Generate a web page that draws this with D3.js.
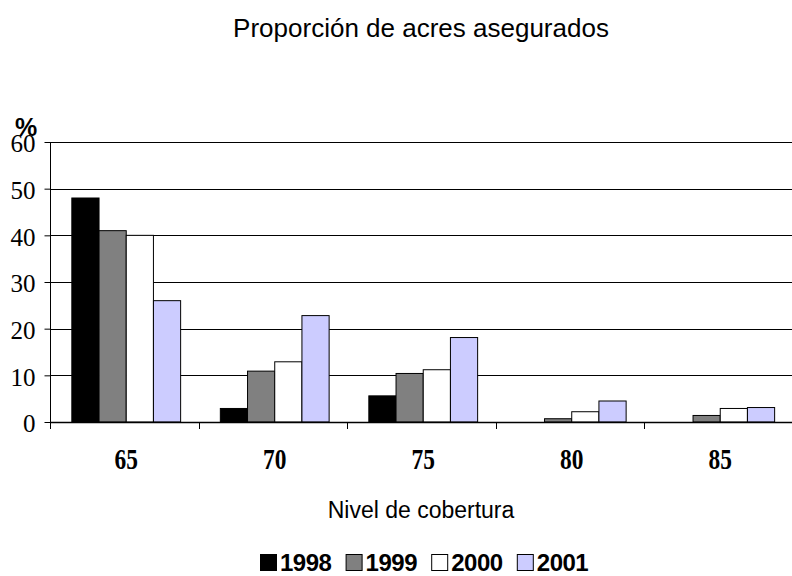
<!DOCTYPE html>
<html>
<head>
<meta charset="utf-8">
<script src="https://cdn.jsdelivr.net/npm/d3@7"></script>
<style>
  html, body { margin: 0; padding: 0; background: #fff; }
  svg { display: block; }
</style>
</head>
<body>
<svg id="chart"></svg>
<script>
// Proporción de acres asegurados — barras agrupadas por nivel de cobertura

const levels = ['65', '70', '75', '80', '85']
const years = ['1998', '1999', '2000', '2001']
const colors = ['#000000', '#808080', '#ffffff', '#ccccff']

const v1998 = [48, 2.9, 5.6, 0, 0]
const v1999 = [41, 10.9, 10.4, 0.7, 1.4]
const v2000 = [40, 12.9, 11.2, 2.2, 2.9]
const v2001 = [26, 22.8, 18.1, 4.5, 3.1]
const yTicks = [0, 10, 20, 30, 40, 50, 60]

const series = [v1998, v1999, v2000, v2001]

const width = 792, height = 576
const margin = { top: 142, right: 0, bottom: 154, left: 50 }

const svg = d3.select('#chart').attr('width', width).attr('height', height)

const x0 = d3.scaleBand()
  .domain(levels)
  .range([margin.left, 792.5])
  .paddingInner(0)
  .paddingOuter(0)

const x1 = d3.scaleBand()
  .domain(years)
  .range([0, x0.bandwidth()])
  .paddingInner(0)
  .paddingOuter(0.73)
  .align(0.55)

const y = d3.scaleLinear()
  .domain([0, 60])
  .range([height - margin.bottom, margin.top])

// Title
svg.append('text')
  .attr('x', 421)
  .attr('y', 37)
  .attr('text-anchor', 'middle')
  .attr('font-family', 'Liberation Sans, Arial, sans-serif')
  .attr('font-size', 26)
  .text('Proporción de acres asegurados')

// Gridlines
svg.append('g')
  .selectAll('line')
  .data(yTicks.filter(d => d > 0))
  .join('line')
  .attr('x1', margin.left)
  .attr('x2', width)
  .attr('y1', d => Math.round(y(d)) + 0.5)
  .attr('y2', d => Math.round(y(d)) + 0.5)
  .attr('stroke', '#000')
  .attr('stroke-width', 1)

// Bars
const groups = svg.append('g')
  .selectAll('g')
  .data(levels)
  .join('g')
  .attr('transform', d => `translate(${x0(d)},0)`)

groups.selectAll('rect')
  .data((d, i) => years.map((yr, j) => ({ year: yr, j, value: series[j][i] })))
  .join('rect')
  .filter(d => d.value > 0)
  .attr('x', d => x1(d.year))
  .attr('y', d => y(d.value))
  .attr('width', x1.bandwidth())
  .attr('height', d => y(0) - y(d.value))
  .attr('fill', d => colors[d.j])
  .attr('stroke', '#000')
  .attr('stroke-width', 1)

// Y axis
const yAxis = d3.axisLeft(y)
  .tickValues(yTicks)
  .tickSize(6)
  .tickPadding(9)
  .tickFormat(d3.format('d'))

const yg = svg.append('g')
  .attr('transform', `translate(${margin.left + 0.5},0)`)
  .call(yAxis)
yg.select('.domain').attr('stroke', '#000').attr('d', `M0,${y(60)}V${y(0)}`)
yg.selectAll('.tick line').attr('stroke', '#000')
yg.selectAll('.tick text')
  .attr('font-family', 'Liberation Serif, Times New Roman, serif')
  .attr('font-size', 25)
  .attr('fill', '#000')
  .attr('dy', '0.39em')

// X axis (ticks at category boundaries)
const xBounds = levels.map(d => x0(d))
const xg = svg.append('g')
xg.append('line')
  .attr('x1', margin.left)
  .attr('x2', width)
  .attr('y1', Math.round(y(0)) + 0.5)
  .attr('y2', Math.round(y(0)) + 0.5)
  .attr('stroke', '#000')
  .attr('stroke-width', 1.5)
xg.selectAll('line.tk')
  .data(xBounds)
  .join('line')
  .attr('class', 'tk')
  .attr('x1', d => Math.round(d) + 0.5)
  .attr('x2', d => Math.round(d) + 0.5)
  .attr('y1', y(0))
  .attr('y2', y(0) + 7)
  .attr('stroke', '#000')

xg.selectAll('text')
  .data(levels)
  .join('text')
  .attr('transform', d => `translate(${x0(d) + x0.bandwidth() / 2 + 2},469) scale(0.78,1)`)
  .attr('text-anchor', 'middle')
  .attr('font-family', 'Liberation Serif, Times New Roman, serif')
  .attr('font-weight', 'bold')
  .attr('font-size', 30)
  .text(d => d)

// Axis titles
svg.append('text')
  .attr('x', 15)
  .attr('y', 136)
  .attr('font-family', 'Liberation Sans, Arial, sans-serif')
  .attr('font-weight', 'bold')
  .attr('font-size', 25)
  .text('%')

svg.append('text')
  .attr('x', 421)
  .attr('y', 518)
  .attr('text-anchor', 'middle')
  .attr('font-family', 'Liberation Sans, Arial, sans-serif')
  .attr('font-size', 23)
  .text('Nivel de cobertura')

// Legend
const legend = svg.append('g')
  .selectAll('g')
  .data(years)
  .join('g')
  .attr('transform', (d, i) => `translate(${260 + i * 85.6},0)`)

legend.append('rect')
  .attr('x', 0.5)
  .attr('y', 554.5)
  .attr('width', 16)
  .attr('height', 16)
  .attr('fill', (d, i) => colors[i])
  .attr('stroke', '#000')

legend.append('text')
  .attr('x', 20)
  .attr('y', 571)
  .attr('font-family', 'Liberation Sans, Arial, sans-serif')
  .attr('font-weight', 'bold')
  .attr('font-size', 24)
  .attr('letter-spacing', -0.5)
  .text(d => d)
</script>
</body>
</html>
